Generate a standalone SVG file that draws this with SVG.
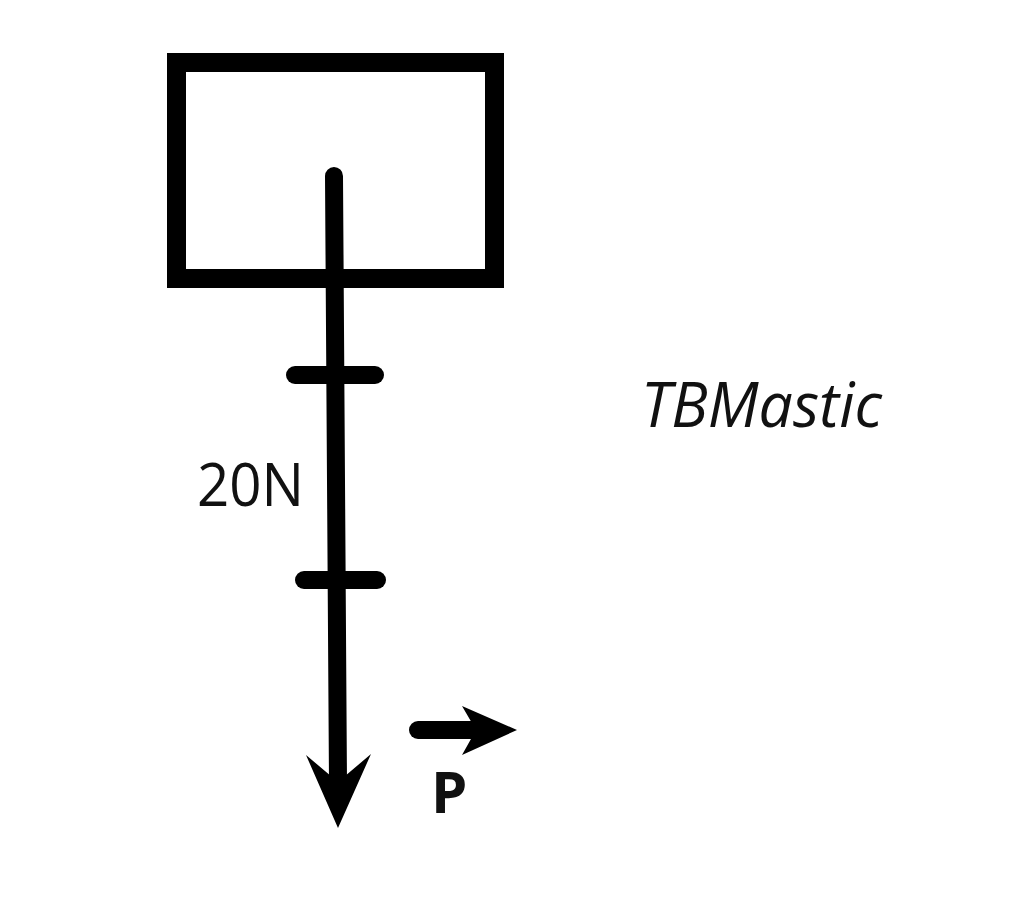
<svg xmlns="http://www.w3.org/2000/svg" width="1024" height="922" viewBox="0 0 1024 922">
<style>
.ln{stroke:#000;stroke-width:18;stroke-linecap:round;fill:none}
.t{font-family:"Open Sans","Noto Sans",sans-serif;fill:#111}
</style>
<rect width="1024" height="922" fill="#fff"/>
<g id="box"><rect x="176.5" y="62.5" width="318" height="216" fill="none" stroke="#000" stroke-width="19"/></g>
<g id="connectors">
<path class="ln" d="M334 176 L338 784" stroke-linecap="round"/>
<polygon points="306,755 338,782 371,754 338,828" fill="#000"/>
<path class="ln" d="M295 375 L375 375"/>
<path class="ln" d="M304 580 L377 580"/>
<path class="ln" d="M418 730 L476 730"/>
<polygon points="462,706 517,730 462,755 476,730" fill="#000"/>
</g>
<g id="labels">
<text class="t" x="197" y="506" font-size="60" textLength="107" lengthAdjust="spacingAndGlyphs">20N</text>
<text class="t" x="431" y="813" font-size="58" font-weight="bold">P</text>
<text class="t" x="641" y="427" font-size="62" font-style="italic" textLength="241" lengthAdjust="spacingAndGlyphs">TBMastic</text>
</g>
</svg>
